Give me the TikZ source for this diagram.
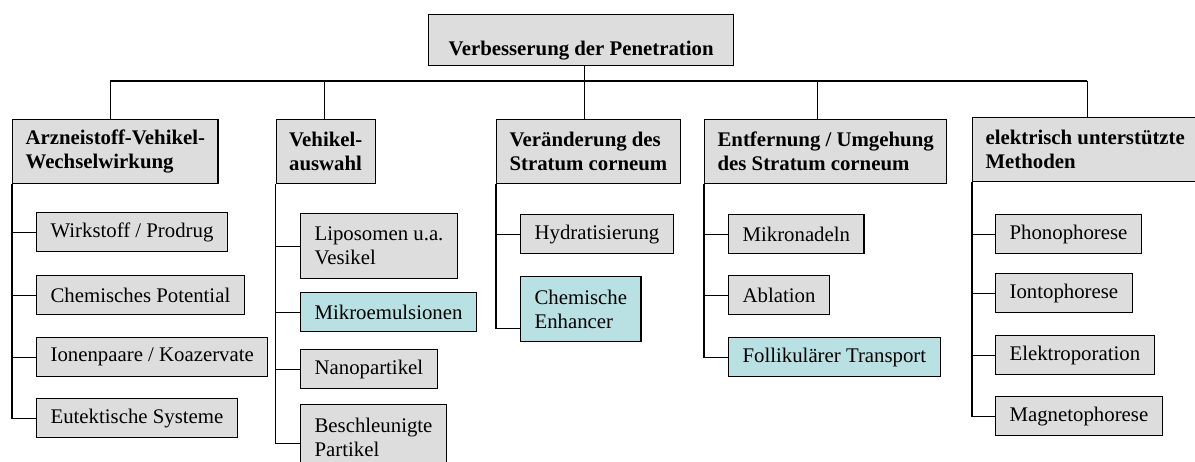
\documentclass[tikz,border=0pt]{standalone}
\usepackage{fontspec}
\setmainfont{Liberation Serif}
\definecolor{boxgray}{RGB}{221,221,221}
\definecolor{boxblue}{RGB}{185,224,227}

\tikzset{
  topbox/.style={draw, line width=1.3pt, fill=boxgray, font=\bfseries, anchor=north west,
    minimum width=305pt, text height=41pt, text depth=10pt, inner ysep=0pt},
  groupbox/.style={draw, line width=1.2pt, fill=boxgray, font=\bfseries, align=left,
    anchor=north west, minimum height=64pt, inner xsep=13pt},
  leaf/.style={draw, line width=1.2pt, fill=boxgray, align=left, anchor=north west,
    minimum height=39pt, inner xsep=14pt},
  tall/.style={minimum height=65pt},
  marked/.style={fill=boxblue},
  link/.style={line width=1.1pt}
}

\begin{document}
\begin{tikzpicture}[x=1pt,y=-1pt]
  \fontsize{20.8}{24}\selectfont
  \useasboundingbox (0,0) rectangle (1195,462);

  % top
  \node [topbox] (top) at (428,14) {Verbesserung der Penetration};

  % groups
  \node [groupbox] (g1) at (12,119) {Arzneistoff-Vehikel-\\Wechselwirkung};
  \node [groupbox] (g2) at (275.5,119) {Vehikel-\\auswahl};
  \node [groupbox] (g3) at (496,119) {Veränderung des\\Stratum corneum};
  \node [groupbox] (g4) at (704,119) {Entfernung / Umgehung\\des Stratum corneum};
  \node [groupbox] (g5) at (972,117) {elektrisch unterstützte\\Methoden};

  % leaves
  \node [leaf] (c11) at (36,212) {Wirkstoff / Prodrug};
  \node [leaf] (c12) at (36,275) {Chemisches Potential};
  \node [leaf] (c13) at (36,337) {Ionenpaare / Koazervate};
  \node [leaf] (c14) at (36,398) {Eutektische Systeme};

  \node [leaf,tall] (c21) at (300,213) {Liposomen u.a.\\Vesikel};
  \node [leaf,marked] (c22) at (300,292) {Mikroemulsionen};
  \node [leaf] (c23) at (300,349) {Nanopartikel};
  \node [leaf,tall] (c24) at (300,404) {Beschleunigte\\Partikel};

  \node [leaf] (c31) at (520,214) {Hydratisierung};
  \node [leaf,tall,marked] (c32) at (520,276) {Chemische\\Enhancer};

  \node [leaf] (c41) at (728,214) {Mikronadeln};
  \node [leaf] (c42) at (728,275) {Ablation};
  \node [leaf,marked] (c43) at (728,337) {Follikulärer Transport};

  \node [leaf] (c51) at (995,214) {Phonophorese};
  \node [leaf] (c52) at (995,273) {Iontophorese};
  \node [leaf] (c53) at (995,335) {Elektroporation};
  \node [leaf] (c54) at (995,396) {Magnetophorese};

  % connectors
  \coordinate (bus) at (0,81);
  \draw [link] ([xshift=3pt]top.south) -- ([xshift=3pt]top.south |- bus);
  \draw [link] ([xshift=-5pt]g1.north |- bus) -- ([xshift=2pt]g5.north |- bus);
  \foreach \g/\dx in {g1/-5,g2/-1,g3/-4,g4/-8,g5/2}
    \draw [link] ([xshift=\dx pt]\g.north) -- ([xshift=\dx pt]\g.north |- bus);

  \foreach \c in {c11,c12,c13,c14}
    \draw [link] (g1.south west) |- (\c.west);
  \foreach \c in {c21,c22,c23}
    \draw [link] (g2.south west) |- (\c.west);
  \draw [link] (g2.south west) |- ([yshift=-6pt]c24.west);
  \draw [link] (g3.south west) |- (c31.west);
  \draw [link] (g3.south west) |- ([yshift=-19pt]c32.west);
  \foreach \c in {c41,c42,c43}
    \draw [link] (g4.south west) |- (\c.west);
  \foreach \c in {c51,c52,c53,c54}
    \draw [link] (g5.south west) |- (\c.west);
\end{tikzpicture}
\end{document}
